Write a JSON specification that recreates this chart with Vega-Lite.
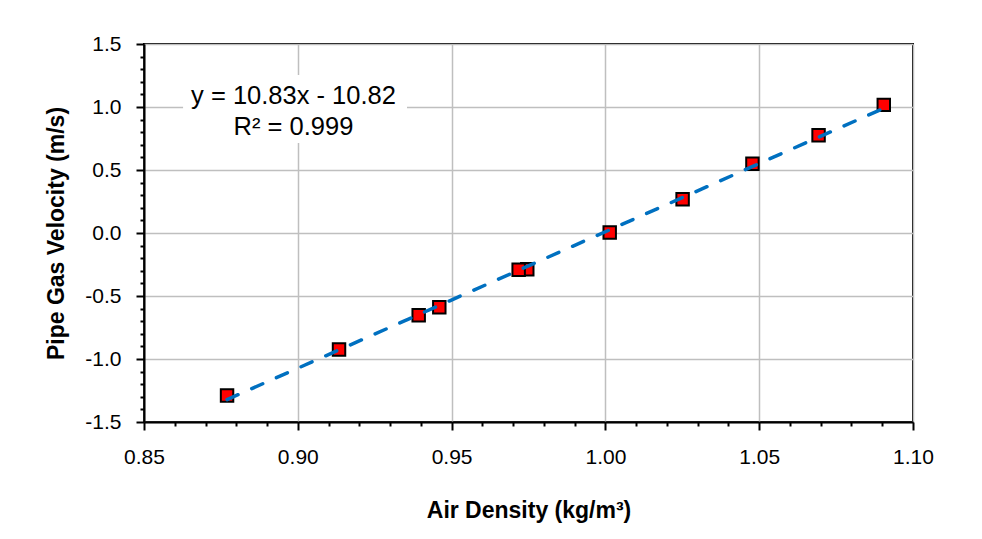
{
  "$schema": "https://vega.github.io/schema/vega-lite/v6.json",
  "width": 769,
  "height": 378,
  "autosize": {"type": "none"},
  "padding": {"left": 144, "top": 44, "right": 69, "bottom": 117},
  "background": "white",
  "config": {
    "font": "Liberation Sans",
    "view": {"stroke": "black", "strokeWidth": 2},
    "axis": {
      "labelFont": "Liberation Sans",
      "labelFontSize": 21,
      "labelColor": "black",
      "labelOverlap": false,
      "labelFlush": false,
      "labelBound": false,
      "tickCount": 200,
      "titleFont": "Liberation Sans",
      "titleFontSize": 23,
      "titleFontWeight": "bold",
      "titleColor": "black",
      "domainColor": "black",
      "domainWidth": 2,
      "tickColor": "black",
      "tickWidth": 2,
      "gridColor": "#BFBFBF",
      "gridWidth": 1.5
    }
  },
  "datasets": {
    "points": [
      {"density": 0.877, "velocity": -1.29},
      {"density": 0.9134, "velocity": -0.925},
      {"density": 0.9393, "velocity": -0.652},
      {"density": 0.946, "velocity": -0.589},
      {"density": 0.9746, "velocity": -0.287},
      {"density": 0.9718, "velocity": -0.292},
      {"density": 1.0014, "velocity": 0.004},
      {"density": 1.0251, "velocity": 0.268},
      {"density": 1.0478, "velocity": 0.549},
      {"density": 1.0693, "velocity": 0.776},
      {"density": 1.0905, "velocity": 1.017}
    ],
    "trend": [
      {"density": 0.877, "velocity": -1.322},
      {"density": 1.0905, "velocity": 0.99}
    ]
  },
  "layer": [
    {
      "data": {"name": "points"},
      "mark": {"type": "point", "shape": "square", "filled": true, "fill": "#FF0000", "stroke": "black", "strokeWidth": 2, "size": 155, "opacity": 1},
      "encoding": {
        "x": {
          "field": "density", "type": "quantitative",
          "scale": {"domain": [0.85, 1.1], "zero": false, "nice": false},
          "axis": {
            "title": "Air Density (kg/m³)",
            "titlePadding": 32,
            "tickCount": 200,
            "values": [0.85,0.86,0.87,0.88,0.89,0.9,0.91,0.92,0.93,0.94,0.95,0.96,0.97,0.98,0.99,1.0,1.01,1.02,1.03,1.04,1.05,1.06,1.07,1.08,1.09,1.1],
            "labelExpr": "round(datum.value*100) % 5 == 0 ? format(datum.value, '.2f') : ''",
            "labelPadding": 16,
            "tickSize": {"condition": {"test": "round(datum.value*100) % 5 == 0", "value": 8}, "value": 4},
            "gridOpacity": {"condition": {"test": "round(datum.value*100) % 5 == 0", "value": 1}, "value": 0}
          }
        },
        "y": {
          "field": "velocity", "type": "quantitative",
          "scale": {"domain": [-1.5, 1.5], "zero": false, "nice": false},
          "axis": {
            "title": "Pipe Gas Velocity (m/s)",
            "titlePadding": 16,
            "tickCount": 200,
            "values": [-1.5,-1.4,-1.3,-1.2,-1.1,-1.0,-0.9,-0.8,-0.7,-0.6,-0.5,-0.4,-0.3,-0.2,-0.1,0,0.1,0.2,0.3,0.4,0.5,0.6,0.7,0.8,0.9,1.0,1.1,1.2,1.3,1.4,1.5],
            "labelExpr": "abs(round(datum.value*10)) % 5 == 0 ? replace(format(datum.value, '.1f'), '−', '-') : ''",
            "labelPadding": 15,
            "tickSize": {"condition": {"test": "abs(round(datum.value*10)) % 5 == 0", "value": 8}, "value": 4},
            "gridOpacity": {"condition": {"test": "abs(round(datum.value*10)) % 5 == 0", "value": 1}, "value": 0}
          }
        }
      }
    },
    {
      "data": {"name": "trend"},
      "mark": {"type": "line", "color": "#0070C0", "strokeWidth": 3.5, "strokeDash": [12, 15], "strokeCap": "round"},
      "encoding": {
        "x": {"field": "density", "type": "quantitative"},
        "y": {"field": "velocity", "type": "quantitative"}
      }
    },
    {
      "data": {"values": [{}]},
      "mark": {"type": "rect", "fill": "white"},
      "encoding": {
        "x": {"datum": 0.8627, "type": "quantitative"},
        "x2": {"datum": 0.9355},
        "y": {"datum": 1.254, "type": "quantitative"},
        "y2": {"datum": 0.714}
      }
    },
    {
      "data": {"values": [{"label": ["y = 10.83x - 10.82", "R² = 0.999"]}]},
      "mark": {"type": "text", "font": "Liberation Sans", "fontSize": 25.5, "lineHeight": 30.7, "align": "center", "baseline": "middle", "color": "black"},
      "encoding": {
        "x": {"datum": 0.8986, "type": "quantitative"},
        "y": {"datum": 1.087, "type": "quantitative"},
        "text": {"field": "label"}
      }
    }
  ]
}
